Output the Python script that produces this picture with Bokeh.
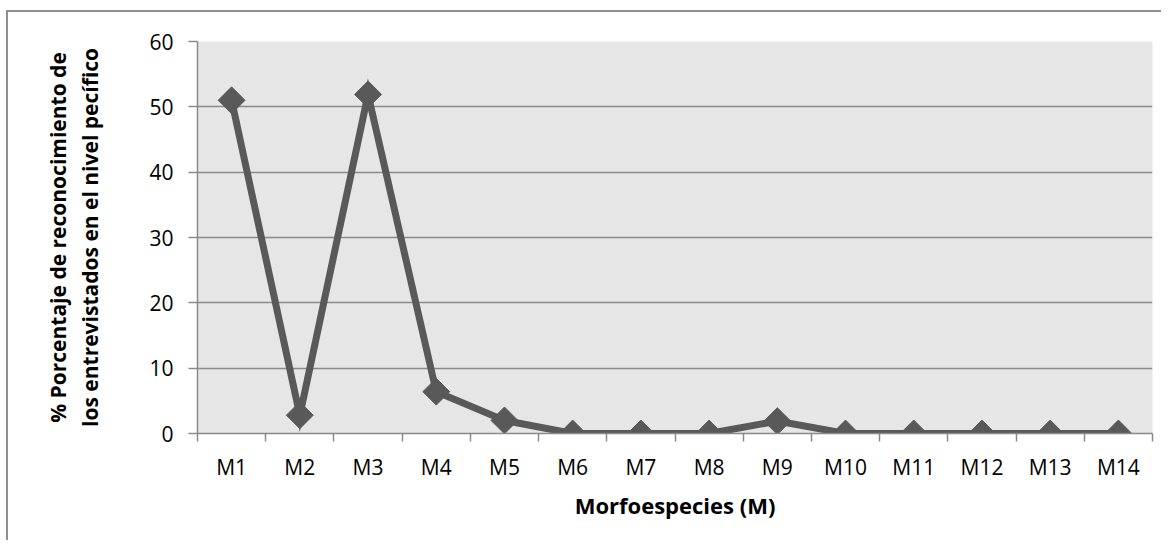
import math
from bokeh.plotting import figure
from bokeh.models import Range1d, FixedTicker
from bokeh.embed import file_html
from bokeh.resources import INLINE

# ---- data ----
categories = ["M1", "M2", "M3", "M4", "M5", "M6", "M7",
              "M8", "M9", "M10", "M11", "M12", "M13", "M14"]
porcentaje = [51.0, 2.8, 51.9, 6.4, 2.0, 0.0, 0.0,
              0.0, 1.9, 0.0, 0.0, 0.0, 0.0, 0.0]
y_ticks = [0, 10, 20, 30, 40, 50, 60]

x_title = "Morfoespecies (M)"
y_title_1 = "% Porcentaje de reconocimiento de"
y_title_2 = "los entrevistados en el nivel pecífico"

# ---- styling ----
FONT = "Open Sans"
TXT = "#000000"
GRAY_LINE = "#8a8a8a"
SERIES = "#595959"
BG = "#e6e6e6"

W, H = 1155, 530
ML, MR, MT, MB = 189, 11, 29, 109

n = len(categories)
centers = [i + 0.5 for i in range(n)]
bounds = [i for i in range(n + 1)]

p = figure(width=W, height=H, output_backend="svg", toolbar_location=None,
           x_range=Range1d(0, n), y_range=Range1d(0, 60),
           min_border_left=ML, min_border_right=MR,
           min_border_top=MT, min_border_bottom=MB)
p.styles = {"border-left": "2px solid #8f8f8f",
            "border-top": "2px solid #8f8f8f",
            "margin-top": "10px", "margin-left": "6px"}
p.border_fill_color = "white"
p.outline_line_color = None
p.background_fill_color = BG

# y axis
p.yaxis.ticker = FixedTicker(ticks=y_ticks)
p.yaxis.axis_line_color = GRAY_LINE
p.yaxis.axis_line_width = 1.5
p.yaxis.major_tick_line_color = GRAY_LINE
p.yaxis.major_tick_line_width = 1.5
p.yaxis.major_tick_out = 9
p.yaxis.major_tick_in = 0
p.yaxis.minor_tick_line_color = None
p.yaxis.major_label_text_font = FONT
p.yaxis.major_label_text_font_size = "21px"
p.yaxis.major_label_text_color = TXT
p.yaxis.major_label_standoff = 15
p.yaxis.axis_label = y_title_1 + "\n" + y_title_2
p.yaxis.axis_label_text_font = FONT
p.yaxis.axis_label_text_font_size = "21px"
p.yaxis.axis_label_text_font_style = "bold"
p.yaxis.axis_label_text_color = TXT
p.yaxis.axis_label_text_align = "center"
p.yaxis.axis_label_text_line_height = 1.15
p.yaxis.axis_label_standoff = 42

# x axis
p.xaxis.ticker = FixedTicker(ticks=centers, minor_ticks=bounds)
p.xaxis.major_label_overrides = {c: lab for c, lab in zip(centers, categories)}
p.xaxis.axis_line_color = GRAY_LINE
p.xaxis.axis_line_width = 1.5
p.xaxis.major_tick_line_color = None
p.xaxis.minor_tick_line_color = GRAY_LINE
p.xaxis.minor_tick_line_width = 1.5
p.xaxis.minor_tick_out = 8
p.xaxis.minor_tick_in = 0
p.xaxis.major_label_text_font = FONT
p.xaxis.major_label_text_font_size = "21px"
p.xaxis.major_label_text_color = TXT
p.xaxis.major_label_standoff = 11
p.xaxis.axis_label = x_title
p.xaxis.axis_label_text_font = FONT
p.xaxis.axis_label_text_font_size = "22px"
p.xaxis.axis_label_text_font_style = "bold"
p.xaxis.axis_label_text_color = TXT
p.xaxis.axis_label_standoff = 6

# grid
p.xgrid.visible = False
p.ygrid.ticker = FixedTicker(ticks=y_ticks)
p.ygrid.grid_line_color = GRAY_LINE
p.ygrid.grid_line_width = 1.5

# series
p.line(centers, porcentaje, line_color=SERIES, line_width=7, line_join="miter")
p.scatter(centers, porcentaje, marker="square", angle=math.pi / 4, size=19,
          fill_color=SERIES, line_color=SERIES)

open("out.html", "w").write(file_html(p, INLINE))
